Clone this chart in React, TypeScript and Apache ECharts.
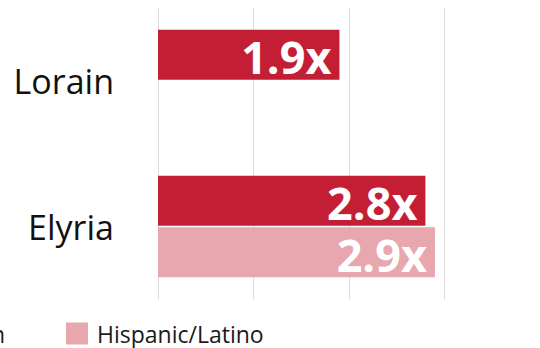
import React, { useEffect, useRef } from "react";
import * as echarts from "echarts";

const categories = ["Lorain", "Elyria"];
const seriesNames = ["Black/African American", "Hispanic/Latino"];
const blackValues: (number | null)[] = [1.9, 2.8];
const hispanicValues: (number | null)[] = [null, 2.9];
const xTicks = [0, 1, 2, 3, 4];

const FONT = "'Open Sans', 'Noto Sans', sans-serif";

export default function App() {
  const ref = useRef<HTMLDivElement>(null);
  useEffect(() => {
    if (!ref.current) return;
    const chart = echarts.init(ref.current, undefined, { renderer: "svg" });
    const label = {
      show: true,
      position: "insideRight",
      distance: 8,
      offset: [0, 2],
      color: "#ffffff",
      fontFamily: FONT,
      fontWeight: "bold",
      fontSize: 45,
      lineHeight: 36,
      formatter: (p: any) => `${p.value}x`,
    };
    const legendBase = {
      top: 317,
      itemWidth: 22,
      itemHeight: 22,
      itemGap: 54,
      icon: "rect",
      textStyle: { fontFamily: FONT, fontSize: 23, color: "#1a1a1a", padding: [0, 0, 0, 4] },
    };
    chart.setOption({
      animation: false,
      backgroundColor: "#ffffff",
      textStyle: { fontFamily: FONT },
      grid: { left: 158, top: 7.5, width: 390, height: 292, containLabel: false },
      legend: [
        { ...legendBase, data: [seriesNames[0]], right: 530 },
        { ...legendBase, data: [seriesNames[1]], left: 61 },
      ],
      xAxis: {
        type: "value",
        min: xTicks[0],
        max: xTicks[xTicks.length - 1],
        interval: 1,
        axisLabel: { show: false },
        axisLine: { show: false },
        axisTick: { show: false },
        splitLine: { show: true, lineStyle: { color: "#dcdcdc", width: 1 } },
      },
      yAxis: {
        type: "category",
        data: categories,
        inverse: true,
        axisLine: { show: false },
        axisTick: { show: false },
        axisLabel: { margin: 44, fontFamily: FONT, fontSize: 34, color: "#111111" },
      },
      series: [
        {
          name: seriesNames[0],
          type: "bar",
          data: blackValues,
          barWidth: 50,
          barGap: "3%",
          itemStyle: { color: "#C41E34" },
          label,
        },
        {
          name: seriesNames[1],
          type: "bar",
          data: hispanicValues,
          barWidth: 50,
          barGap: "3%",
          itemStyle: { color: "#E8A6AE" },
          label,
        },
      ],
    });
    return () => chart.dispose();
  }, []);
  return <div ref={ref} style={{ width: 540, height: 348, position: "absolute", left: 0, top: 0 }} />;
}
